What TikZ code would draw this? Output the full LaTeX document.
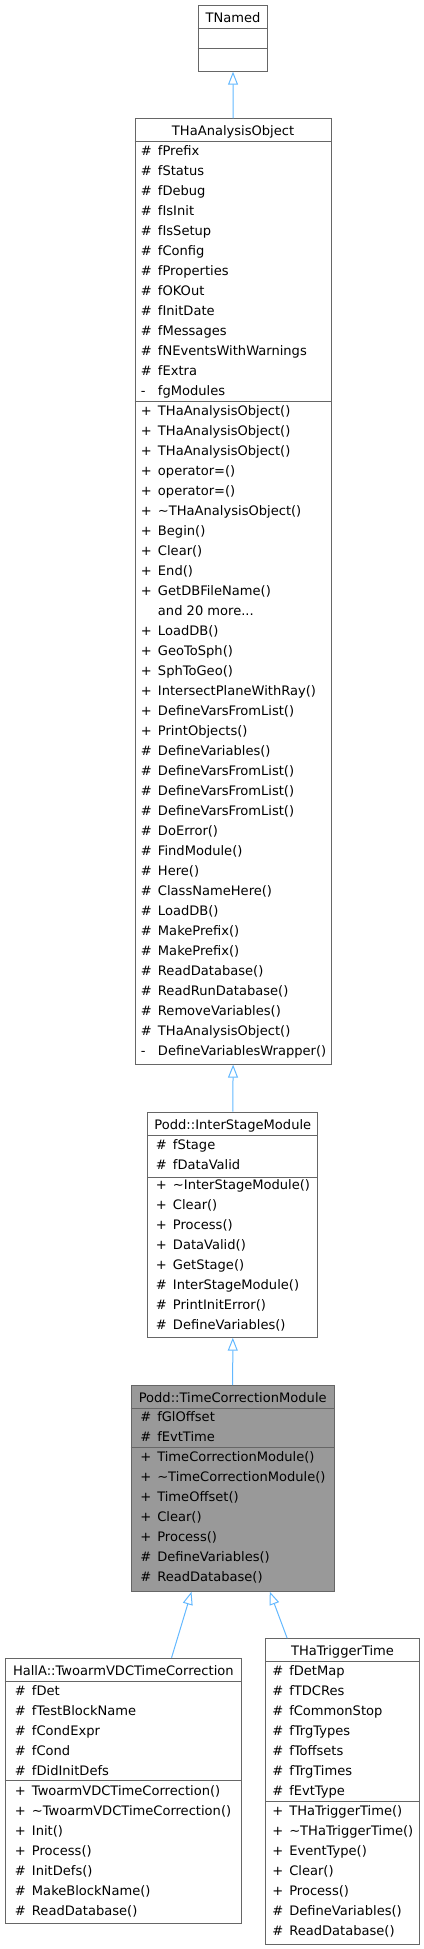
\documentclass[tikz,border=0pt]{standalone}
\usepackage{fontspec}
\setmainfont{DejaVu Sans}
\usetikzlibrary{arrows.meta,calc}

\newlength\dpx \setlength\dpx{0.75pt}
\definecolor{edgeblue}{HTML}{63B8FF}
\definecolor{boxline}{HTML}{666666}
\definecolor{hilite}{HTML}{999999}
\newcommand\moredots{...}

% one row per member: #1 prefix, #2 x of names, #3 first baseline, #4 sym/text list
\newcommand\memberrows[4]{%
  \foreach \sym/\txt [count=\k from 0] in {#4} {
    \node[member] (#1-s\k) at (#2-17,#3+20*\k) {\sym};
    \node[member] (#1-t\k) at (#2,#3+20*\k) {\txt};
  }}

\begin{document}
\begin{tikzpicture}[x=0.75pt,y=-0.75pt,
    classbox/.style={draw=boxline,line width=0.75pt,fill=white,anchor=north west,inner sep=0pt},
    member/.style={anchor=base west,inner sep=0pt,font=\fontsize{9.8}{12}\selectfont},
    classname/.style={anchor=base,inner sep=0pt,font=\fontsize{9.8}{12}\selectfont},
    inherit/.style={draw=edgeblue,line width=0.75pt,-{Triangle[open,length=9.75pt,width=7.5pt]}}]
\useasboundingbox (0,0) rectangle (424,1949);
%%%%% class boxes
\node[classbox,minimum width=69.6\dpx,minimum height=65.7\dpx] (tnamed) at (197.7,5) {};
\node[classbox,minimum width=196.2\dpx,minimum height=945.3\dpx] (tao) at (134.5,118.3) {};
\node[classbox,minimum width=170\dpx,minimum height=225\dpx] (ism) at (147.3,1111.7) {};
\node[classbox,fill=hilite,minimum width=203\dpx,minimum height=205.7\dpx] (tcm) at (130.7,1385) {};
\node[classbox,minimum width=236.3\dpx,minimum height=265.6\dpx] (tvdc) at (4.7,1657.7) {};
\node[classbox,minimum width=153.4\dpx,minimum height=305.7\dpx] (ttt) at (265.3,1638.3) {};
%%%%% compartment lines
\foreach \n/\d in {tnamed/23.7,tnamed/43.7,tao/23,tao/283.4,ism/23.6,ism/65.3,
                   tcm/23.3,tcm/62.7,tvdc/24,tvdc/123,ttt/23.4,ttt/163.4}
  \draw[boxline,line width=0.75pt] ($(\n.north west)+(0,\d)$) -- ($(\n.north east)+(0,\d)$);
%%%%% class names
\node[classname] (tnamed-name) at ($(tnamed.north)+(0,17.3)$) {TNamed};
\node[classname] (tao-name) at ($(tao.north)+(0,17.3)$) {THaAnalysisObject};
\node[classname] (ism-name) at ($(ism.north)+(0,17.3)$) {Podd::InterStageModule};
\node[classname] (tcm-name) at ($(tcm.north)+(0,17.3)$) {Podd::TimeCorrectionModule};
\node[classname] (tvdc-name) at ($(tvdc.north)+(0,17.3)$) {HallA::TwoarmVDCTimeCorrection};
\node[classname] (ttt-name) at ($(ttt.north)+(0,17.3)$) {THaTriggerTime};
%%%%% members
\memberrows{taoa}{157.7}{155.7}{\#/fPrefix,\#/fStatus,\#/fDebug,\#/fIsInit,\#/fIsSetup,
  \#/fConfig,\#/fProperties,\#/fOKOut,\#/fInitDate,\#/fMessages,\#/fNEventsWithWarnings,
  \#/fExtra,-/fgModules}
\memberrows{taom}{157.7}{415.7}{+/THaAnalysisObject(),+/THaAnalysisObject(),+/THaAnalysisObject(),
  +/operator=(),+/operator=(),+/\textasciitilde THaAnalysisObject(),+/Begin(),+/Clear(),+/End(),
  +/GetDBFileName(),{}/and 20 more\moredots,+/LoadDB(),+/GeoToSph(),+/SphToGeo(),
  +/IntersectPlaneWithRay(),+/DefineVarsFromList(),+/PrintObjects(),\#/DefineVariables(),
  \#/DefineVarsFromList(),\#/DefineVarsFromList(),\#/DefineVarsFromList(),\#/DoError(),
  \#/FindModule(),\#/Here(),\#/ClassNameHere(),\#/LoadDB(),\#/MakePrefix(),\#/MakePrefix(),
  \#/ReadDatabase(),\#/ReadRunDatabase(),\#/RemoveVariables(),\#/THaAnalysisObject(),
  -/DefineVariablesWrapper()}
\memberrows{isma}{172.7}{1149}{\#/fStage,\#/fDataValid}
\memberrows{ismm}{172.7}{1189.3}{+/\textasciitilde InterStageModule(),+/Clear(),+/Process(),
  +/DataValid(),+/GetStage(),\#/InterStageModule(),\#/PrintInitError(),\#/DefineVariables()}
\memberrows{tcma}{157}{1421}{\#/fGlOffset,\#/fEvtTime}
\memberrows{tcmm}{157}{1461.7}{+/TimeCorrectionModule(),+/\textasciitilde TimeCorrectionModule(),
  +/TimeOffset(),+/Clear(),+/Process(),\#/DefineVariables(),\#/ReadDatabase()}
\memberrows{tvdca}{31.7}{1695.7}{\#/fDet,\#/fTestBlockName,\#/fCondExpr,\#/fCond,\#/fDidInitDefs}
\memberrows{tvdcm}{31.7}{1795}{+/TwoarmVDCTimeCorrection(),+/\textasciitilde TwoarmVDCTimeCorrection(),
  +/Init(),+/Process(),\#/InitDefs(),\#/MakeBlockName(),\#/ReadDatabase()}
\memberrows{ttta}{289}{1675}{\#/fDetMap,\#/fTDCRes,\#/fCommonStop,\#/fTrgTypes,\#/fToffsets,
  \#/fTrgTimes,\#/fEvtType}
\memberrows{tttm}{289}{1815}{+/THaTriggerTime(),+/\textasciitilde THaTriggerTime(),+/EventType(),
  +/Clear(),+/Process(),\#/DefineVariables(),\#/ReadDatabase()}
%%%%% inheritance
\draw[inherit] (tao.north) -- (tnamed.south);
\draw[inherit] (ism.north) -- (tao.south);
\draw[inherit] (tcm.north) -- (ism.south);
\draw[inherit] ($(tvdc.north)+(48.2,0)$) -- ($(tcm.south)+(-41.2,0)$);
\draw[inherit] ($(ttt.north)+(-55.3,0)$) -- ($(tcm.south)+(37.1,0)$);
\end{tikzpicture}
\end{document}
